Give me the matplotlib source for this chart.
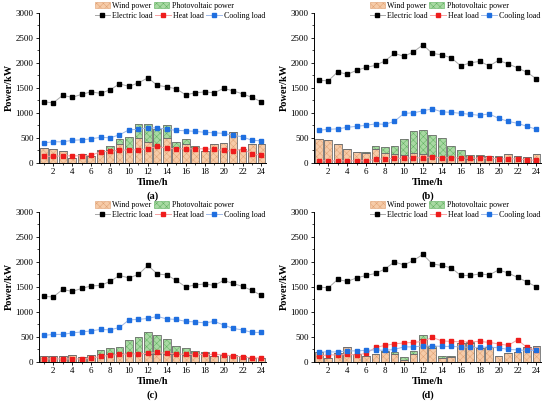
import numpy as np
import matplotlib.pyplot as plt
from matplotlib.patches import Patch

plt.rcParams['font.family'] = ['Liberation Serif', 'DejaVu Serif']
plt.rcParams['font.size'] = 6.5
plt.rcParams['hatch.linewidth'] = 0.35

hours = np.arange(1, 25)

# (a)
wind_a = [300, 270, 230, 100, 170, 140, 240, 250, 370, 280, 490, 410,
          340, 490, 290, 370, 300, 240, 370, 390, 620, 280, 370, 370]
pv_a = [0, 0, 0, 0, 0, 0, 10, 90, 110, 230, 290, 370,
        330, 260, 120, 100, 40, 0, 0, 0, 0, 0, 0, 0]
elec_a = [1220, 1200, 1350, 1310, 1370, 1420, 1390, 1460, 1580, 1530, 1600, 1700,
          1550, 1520, 1480, 1360, 1400, 1420, 1400, 1490, 1440, 1380, 1310, 1220]
heat_a = [130, 130, 140, 140, 140, 150, 220, 230, 250, 260, 260, 280,
          330, 290, 280, 280, 280, 280, 270, 250, 230, 280, 180, 150]
cool_a = [400, 420, 420, 450, 460, 480, 510, 500, 560, 660, 670, 700,
          700, 670, 650, 640, 630, 610, 600, 590, 550, 520, 450, 440]

# (b)
wind_b = [480, 460, 370, 270, 220, 200, 270, 190, 180, 150, 200, 170,
          140, 120, 110, 100, 70, 140, 130, 120, 170, 130, 110, 180]
pv_b = [0, 0, 0, 0, 0, 10, 70, 130, 160, 330, 430, 490,
        420, 370, 220, 160, 90, 10, 10, 10, 0, 0, 0, 0]
elec_b = [1650, 1640, 1820, 1770, 1850, 1910, 1950, 2040, 2190, 2130, 2220, 2360,
          2190, 2160, 2100, 1940, 2000, 2030, 1940, 2050, 1980, 1900, 1810, 1680]
heat_b = [40, 40, 40, 40, 40, 40, 70, 80, 90, 90, 100, 100,
          120, 100, 100, 100, 90, 90, 90, 80, 80, 80, 60, 50]
cool_b = [650, 670, 680, 710, 730, 750, 780, 770, 830, 990, 1000, 1040,
          1080, 1020, 1010, 990, 970, 950, 980, 890, 830, 790, 730, 670]

# (c)
wind_c = [110, 120, 110, 130, 90, 140, 160, 160, 170, 170, 170, 160,
          150, 160, 150, 140, 150, 180, 110, 140, 140, 110, 80, 70]
pv_c = [0, 0, 0, 0, 0, 0, 70, 120, 130, 270, 330, 440,
        380, 300, 170, 130, 60, 20, 0, 0, 0, 0, 0, 0]
elec_c = [1310, 1300, 1450, 1410, 1470, 1520, 1530, 1610, 1730, 1680, 1750, 1930,
          1760, 1740, 1630, 1500, 1540, 1560, 1530, 1630, 1570, 1510, 1430, 1330]
heat_c = [60, 60, 60, 60, 60, 70, 110, 130, 150, 160, 160, 170,
          190, 170, 160, 150, 150, 150, 150, 140, 120, 100, 80, 80]
cool_c = [530, 550, 550, 580, 600, 620, 650, 640, 690, 840, 850, 870,
          910, 860, 850, 810, 800, 780, 810, 740, 670, 640, 590, 590]

# (d)
wind_d = [200, 70, 180, 300, 160, 120, 160, 190, 160, 30, 160, 450,
          270, 80, 100, 380, 380, 270, 300, 120, 170, 200, 290, 320]
pv_d = [0, 0, 0, 0, 0, 0, 0, 30, 40, 70, 60, 80,
        40, 30, 20, 0, 10, 0, 0, 0, 0, 0, 0, 0]
elec_d = [1500, 1480, 1650, 1610, 1680, 1730, 1770, 1860, 2000, 1940, 2030, 2150,
          1960, 1930, 1880, 1730, 1730, 1760, 1740, 1840, 1780, 1690, 1600, 1500]
heat_d = [120, 140, 140, 150, 140, 170, 290, 330, 360, 380, 390, 410,
          490, 420, 410, 400, 400, 410, 390, 360, 330, 440, 290, 230]
cool_d = [200, 200, 200, 220, 220, 230, 240, 230, 250, 300, 300, 320,
          320, 310, 310, 300, 290, 290, 300, 280, 250, 240, 230, 230]

wind_face, wind_hatch = '#f6cba8', '#e0a173'
pv_face, pv_hatch = '#a9d9a3', '#5fb160'
bar_edge = '#6e6e6e'

leg_kw = dict(frameon=False, fontsize=5.8, handlelength=1.9, handleheight=0.8,
              handletextpad=0.3, columnspacing=0.3, borderpad=0, borderaxespad=0,
              loc='center left')


def draw_panel(ax, wind, pv, elec, heat, cool):
    wind = np.array(wind)
    pv = np.array(pv)
    w = 0.82
    # hatched fill, then outline on top
    ax.bar(hours, wind, w, color=wind_face, edgecolor=wind_hatch, hatch='xxxxx', linewidth=0)
    ax.bar(hours, pv, w, bottom=wind, color=pv_face, edgecolor=pv_hatch, hatch='xxxxx', linewidth=0)
    ax.bar(hours, wind, w, fill=False, edgecolor=bar_edge, linewidth=0.6)
    ax.bar(hours, pv, w, bottom=wind, fill=False, edgecolor=bar_edge, linewidth=0.6)

    l1, = ax.plot(hours, elec, color='#a8a8a8', lw=0.7, marker='s', ms=2.6,
                  mfc='black', mec='black')
    l2, = ax.plot(hours, heat, color='#f7a0a0', lw=0.7, marker='s', ms=2.6,
                  mfc='#ee1c1c', mec='#ee1c1c')
    l3, = ax.plot(hours, cool, color='#9db8e8', lw=0.7, marker='s', ms=2.6,
                  mfc='#1f6fe0', mec='#1f6fe0')

    ax.set_xlim(0.5, 24.5)
    ax.set_ylim(0, 3000)
    ax.set_xticks(range(2, 25, 2))
    ax.set_xticks(range(1, 25, 2), minor=True)
    ax.set_yticks(range(0, 3001, 500))
    ax.set_yticks(range(250, 3000, 500), minor=True)
    ax.tick_params(direction='out', length=2.5, width=0.6, pad=1.5)
    ax.tick_params(which='minor', direction='out', length=1.5, width=0.5)
    for s in ['top', 'right']:
        ax.spines[s].set_visible(False)
    for s in ['left', 'bottom']:
        ax.spines[s].set_linewidth(0.7)
    ax.set_xlabel('Time/h', fontweight='bold', fontsize=7.5, labelpad=1)
    ax.set_ylabel('Power/kW', fontweight='bold', fontsize=7.5, labelpad=1)

    # two legend rows: bars on top, load lines below
    bar_handles = [
        Patch(facecolor=wind_face, edgecolor=wind_hatch, hatch='xxxxx', linewidth=0.4),
        Patch(facecolor=pv_face, edgecolor=pv_hatch, hatch='xxxxx', linewidth=0.4),
    ]
    leg1 = ax.legend(bar_handles, ['Wind power', 'Photovoltaic power'], ncol=2,
                     bbox_to_anchor=(0.245, 1.045), **leg_kw)
    ax.add_artist(leg1)
    ax.legend([l1, l2, l3], ['Electric load', 'Heat load', 'Cooling load'], ncol=3,
              bbox_to_anchor=(0.245, 0.978), **leg_kw)


fig = plt.figure(figsize=(5.5, 4.03), dpi=100)
positions = {
    'a': [0.071, 0.596, 0.413, 0.372],
    'b': [0.571, 0.596, 0.413, 0.372],
    'c': [0.071, 0.102, 0.413, 0.372],
    'd': [0.571, 0.102, 0.413, 0.372],
}
panels = {
    'a': (wind_a, pv_a, elec_a, heat_a, cool_a),
    'b': (wind_b, pv_b, elec_b, heat_b, cool_b),
    'c': (wind_c, pv_c, elec_c, heat_c, cool_c),
    'd': (wind_d, pv_d, elec_d, heat_d, cool_d),
}
for key, pos in positions.items():
    ax = fig.add_axes(pos)
    draw_panel(ax, *panels[key])
    fig.text(pos[0] + pos[2] / 2, pos[1] - 0.082, '(%s)' % key,
             ha='center', va='center', fontweight='bold', fontsize=7.5)

fig.savefig('out.png', dpi=100)
